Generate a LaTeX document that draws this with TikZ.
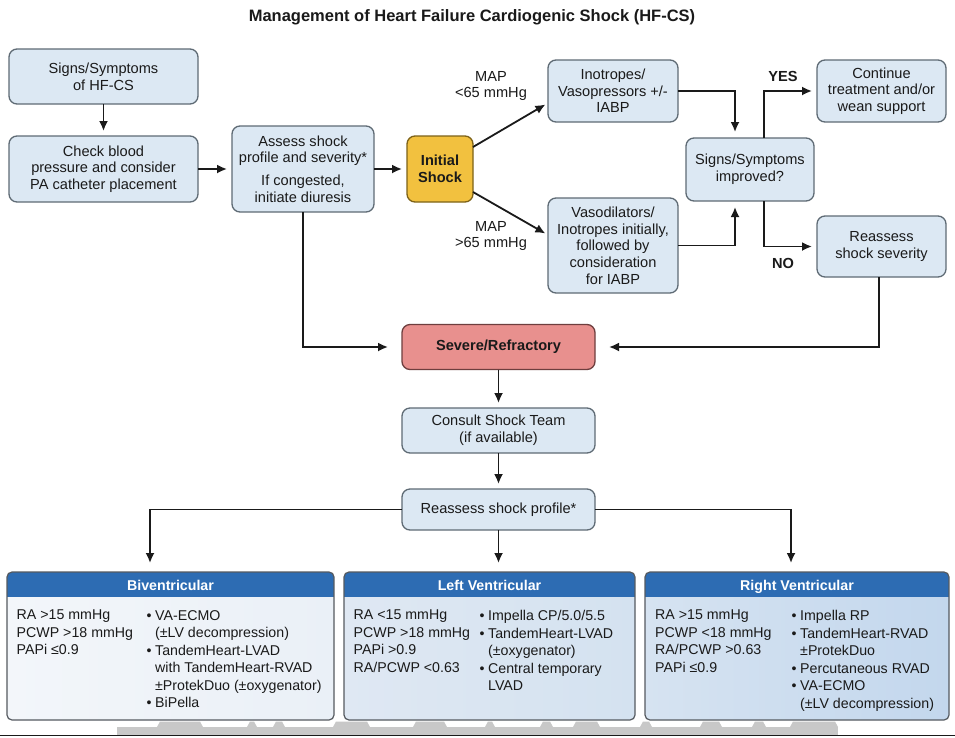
\documentclass[tikz,border=0pt]{standalone}
\usepackage{fontspec}
\setmainfont{Liberation Sans}
\usetikzlibrary{arrows.meta,calc}
\definecolor{boxfill}{HTML}{DCE8F3}
\definecolor{boxdraw}{HTML}{5F6B75}
\definecolor{txt}{HTML}{1A1A1A}
\definecolor{initfill}{HTML}{F2C13F}
\definecolor{initdraw}{HTML}{7D6218}
\definecolor{sevfill}{HTML}{E8908E}
\definecolor{sevdraw}{HTML}{6E3E3E}
\definecolor{hdr}{HTML}{2D6CB3}
\definecolor{pdraw}{HTML}{555A60}
\definecolor{bivL}{HTML}{F3F6FA}
\definecolor{bivR}{HTML}{EAF0F7}
\definecolor{lvL}{HTML}{DFE8F3}
\definecolor{lvR}{HTML}{D4E2F0}
\definecolor{rvL}{HTML}{D6E3F1}
\definecolor{rvR}{HTML}{C3D7ED}
\definecolor{wmark}{HTML}{C8C8C8}
\newcommand\mybul{\makebox[8.5pt][l]{•}}
\newcommand\myind{\hspace*{8.5pt}}
\begin{document}
\begin{tikzpicture}[x=1pt,y=-1pt,
  box/.style={draw=boxdraw, fill=boxfill, rounded corners=8pt, line width=1.3pt,
    align=center, inner sep=2pt, outer sep=0pt, text=txt,
    font=\fontsize{14.6}{16.7}\selectfont},
  initbox/.style={box, draw=initdraw, fill=initfill, font=\fontsize{14.6}{16.7}\selectfont\bfseries},
  sevbox/.style={box, draw=sevdraw, fill=sevfill, font=\fontsize{14.6}{16.7}\selectfont\bfseries},
  lbl/.style={align=center, inner sep=0pt, text=txt, font=\fontsize{14.6}{16.7}\selectfont},
  blbl/.style={lbl, font=\fontsize{14.6}{16.7}\selectfont\bfseries},
  arr/.style={-{Latex[length=10pt,width=9pt]}, line width=1.8pt, draw=txt},
  panel/.style={inner sep=0pt, outer sep=0pt, rounded corners=5pt},
  pborder/.style={draw=pdraw, line width=1.2pt, rounded corners=5pt},
  hdrtxt/.style={anchor=base, text=white, inner sep=0pt, font=\fontsize{14.2}{17}\selectfont\bfseries},
  ptxt/.style={anchor=north west, align=left, inner sep=0pt, text=txt,
    font=\fontsize{14.2}{17.5}\selectfont}
]
\useasboundingbox (0,0) rectangle (955,737);
\fill[white] (0,0) rectangle (955,737);

% title
\node[inner sep=0pt, text=txt, font=\fontsize{16.5}{18}\selectfont\bfseries] (title) at (472,17)
  {Management of Heart Failure Cardiogenic Shock (HF-CS)};

% top-left flow
\node[box, minimum width=189pt, minimum height=55pt] (sig) at (103.5,76.5) {Signs/Symptoms\\of HF-CS};
\node[box, minimum width=189pt, minimum height=66pt] (chk) at (103.5,169) {Check blood\\pressure and consider\\PA catheter placement};
\node[box, minimum width=142pt, minimum height=86pt] (ass) at (303,169) {Assess shock\\profile and severity*\\[6pt]If congested,\\initiate diuresis};
\node[initbox, minimum width=66pt, minimum height=66pt] (init) at (440,169) {Initial\\Shock};

% middle-top
\node[box, minimum width=130pt, minimum height=62pt] (ino) at (613,91) {Inotropes/\\Vasopressors +/-\\IABP};
\node[box, minimum width=130pt, minimum height=95pt] (vaso) at (613,245.5) {Vasodilators/\\Inotropes initially,\\followed by\\consideration\\for IABP};
\node[box, minimum width=128pt, minimum height=63pt] (impr) at (750,169.5) {Signs/Symptoms\\improved?};
\node[box, minimum width=129pt, minimum height=62pt] (cont) at (881.5,91) {Continue\\treatment and/or\\wean support};
\node[box, minimum width=129pt, minimum height=61pt] (reas) at (881.5,246.5) {Reassess\\shock severity};

\node[lbl] (map1) at (491,86) {MAP\\<65 mmHg};
\node[lbl] (map2) at (491,236) {MAP\\>65 mmHg};
\node[blbl] (yes) at (783,76) {YES};
\node[blbl] (no) at (783,263) {NO};

% middle column
\node[sevbox, minimum width=193pt, minimum height=45pt] (sev) at (498.5,347) {Severe/Refractory};
\node[box, minimum width=193pt, minimum height=45pt] (cons) at (498.5,430.5) {Consult Shock Team\\(if available)};
\node[box, minimum width=193pt, minimum height=41pt] (prof) at (498.5,509.5) {Reassess shock profile*};

% connectors top
\draw[arr, shorten >=5pt] (sig) -- (chk);
\draw[arr, shorten >=5pt] (chk) -- (ass);
\draw[arr, shorten >=5pt] (ass) -- (init);
\draw[arr, shorten >=3pt] ([yshift=-11pt]init.north east) -- ([yshift=-12pt]ino.west);
\draw[arr, shorten >=3pt] ([yshift=10pt]init.south east) -- ([yshift=10.5pt]vaso.west);
\draw[arr, shorten >=6pt] (ino.east) -| ([xshift=-15pt]impr.north);
\draw[arr, shorten >=6pt] (vaso.east) -| ([xshift=-15pt]impr.south);
\draw[arr, shorten >=5pt] ([xshift=14pt]impr.north) |- (cont.west);
\draw[arr, shorten >=5pt] ([xshift=14pt]impr.south) |- (reas.west);
\draw[arr, shorten >=14pt] ([xshift=-2.5pt]reas.south) |- (sev.east);
\draw[arr, shorten >=14pt] (ass.south) |- (sev.west);
\draw[arr, shorten >=5pt] (sev) -- (cons);
\draw[arr, shorten >=5pt] (cons) -- (prof);

% panels
\node[panel, left color=bivL, right color=bivR, minimum width=327pt, minimum height=148pt] (biv) at (170.5,646) {};
\node[panel, left color=lvL, right color=lvR, minimum width=291pt, minimum height=148pt] (lv) at (489.5,646) {};
\node[panel, left color=rvL, right color=rvR, minimum width=304pt, minimum height=148pt] (rv) at (797,646) {};
\foreach \p in {biv,lv,rv}{
  \begin{scope}
    \clip[rounded corners=5pt] (\p.north west) rectangle (\p.south east);
    \fill[hdr] (\p.north west) rectangle ([yshift=-25pt]\p.north east);
  \end{scope}
  \draw[pborder] (\p.north west) rectangle (\p.south east);
}
\node[hdrtxt] (bivh) at (170.5,590) {Biventricular};
\node[hdrtxt] (lvh) at (489.5,590) {Left Ventricular};
\node[hdrtxt] (rvh) at (797,590) {Right Ventricular};

\node[ptxt] (bivA) at (16.5,610) {RA >15 mmHg\\PCWP >18 mmHg\\PAPi ≤0.9};
\node[ptxt] (bivB) at (146.5,610) {\mybul VA-ECMO\\\myind(±LV decompression)\\\mybul TandemHeart-LVAD\\\myind with TandemHeart-RVAD\\\myind ±ProtekDuo (±oxygenator)\\\mybul BiPella};
\node[ptxt] (lvA) at (353.5,610) {RA <15 mmHg\\PCWP >18 mmHg\\PAPi >0.9\\RA/PCWP <0.63};
\node[ptxt] (lvB) at (479.5,610) {\mybul Impella CP/5.0/5.5\\\mybul TandemHeart-LVAD\\\myind(±oxygenator)\\\mybul Central temporary\\\myind LVAD};
\node[ptxt] (rvA) at (655,610) {RA >15 mmHg\\PCWP <18 mmHg\\RA/PCWP >0.63\\PAPi ≤0.9};
\node[ptxt] (rvB) at (791.5,610) {\mybul Impella RP\\\mybul TandemHeart-RVAD\\\myind ±ProtekDuo\\\mybul Percutaneous RVAD\\\mybul VA-ECMO\\\myind(±LV decompression)};

% connectors to panels
\draw[arr, shorten >=9pt] (prof.west) -| ([xshift=-20.5pt]biv.north);
\draw[arr, shorten >=9pt] (prof.south) -- (prof.south |- lv.north);
\draw[arr, shorten >=9pt] (prof.east) -| ([xshift=-6pt]rv.north);

% bottom watermark band and rule
\fill[wmark] (117,727) rectangle (838,735);
\foreach \a/\b in {157/203,247/257,273/285,333/370,413/447,485/495,540/553,573/600,640/652,700/722,752/766,790/838}{
  \fill[wmark] (\a,727) -- (\a+3,721.5) -- (\b-3,721.5) -- (\b,727) -- cycle;
}
\draw[line width=1.5pt, draw=txt] (0,735.5) -- (955,735.5);
\end{tikzpicture}
\end{document}
